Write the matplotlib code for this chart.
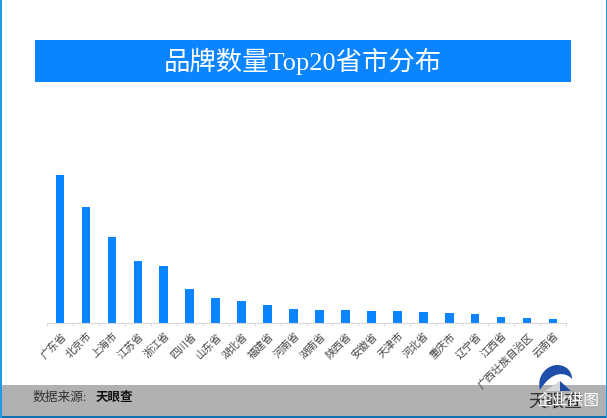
import matplotlib
matplotlib.use('Agg')
import matplotlib.pyplot as plt
from matplotlib.patches import Rectangle, Polygon, PathPatch
from matplotlib.path import Path

W = 607
H = 418

provinces = ['广东省', '北京市', '上海市', '江苏省', '浙江省', '四川省', '山东省', '湖北省', '福建省', '河南省',
             '湖南省', '陕西省', '安徽省', '天津市', '河北省', '重庆市', '辽宁省', '江西省', '广西壮族自治区', '云南省']
counts = [148, 116, 86, 62, 56.5, 34, 25, 21.5, 17.5, 14,
          13, 12.5, 12, 12, 11, 9.5, 9, 6, 4.5, 4]

blue = '#0a84ff'
cjk = ['Liberation Serif', 'Noto Sans CJK SC', 'DejaVu Sans']

fig = plt.figure(figsize=(W / 100, H / 100), dpi=100, facecolor='white')

# full figure overlay in pixel coords, y going down
bg = fig.add_axes([0, 0, 1, 1])
bg.set_xlim(0, W)
bg.set_ylim(H, 0)
bg.axis('off')

# title banner
bg.add_patch(Rectangle((35, 40), 536, 42, color=blue, lw=0))
bg.text(303, 61, '品牌数量Top20省市分布', color='white', fontsize=19, family=cjk,
        ha='center', va='center')

# footer band and frame
bg.add_patch(Rectangle((0, 385), W, 31, color='#b1b1b1', lw=0))
bg.add_patch(Rectangle((0, 416), W, 2, color='#1272b0', lw=0))
bg.add_patch(Rectangle((0, 0), 1.5, H, color='#1e9be8', lw=0))
bg.add_patch(Rectangle((W - 1.5, 0), 1.5, H, color='#1e9be8', lw=0))
bg.text(33, 397.5, '数据来源:', color='#333333', fontsize=9.2, family=cjk, va='center')
bg.text(96, 397.5, '天眼查', color='#111111', fontsize=9, family=cjk, va='center', weight='bold')

# logo
swoosh = Path([(540, 390), (536, 375), (548, 365), (557, 365),
               (566, 365), (572, 371), (572, 379),
               (566, 372), (552, 370), (540, 390)],
              [Path.MOVETO, Path.CURVE4, Path.CURVE4, Path.CURVE4,
               Path.CURVE4, Path.CURVE4, Path.CURVE4,
               Path.CURVE4, Path.CURVE4, Path.CURVE4])
bg.add_patch(PathPatch(swoosh, color='#1d4fa8', lw=0, zorder=3))
bg.add_patch(Polygon([(545, 391), (560, 381), (560, 391)], color='#d4d7dc', lw=0, zorder=3))
bg.add_patch(Polygon([(560, 381), (571, 391), (560, 391)], color='#1d4a9c', lw=0, zorder=3))
bg.text(555, 402, '天眼查', color='#333333', fontsize=13, family=cjk, ha='center', va='center', zorder=4)
bg.text(568, 400.5, '企业供图', color='white', fontsize=11.3, family=cjk, ha='center', va='center', zorder=5)

# chart
left = 47
right = 566
base = 322.5
top = 160
ax = fig.add_axes([left / W, 1 - base / H, (right - left) / W, (base - top) / H])
ax.patch.set_alpha(0)
x = range(len(provinces))
ax.bar(x, counts, width=0.33, color=blue)
ax.set_xlim(-0.5, len(provinces) - 0.5)
ax.set_ylim(0, base - top)
ax.set_yticks([])
for s in ['top', 'left', 'right']:
    ax.spines[s].set_visible(False)
ax.spines['bottom'].set_color('#d9d9d9')
ax.spines['bottom'].set_linewidth(0.8)
ax.set_xticks([i - 0.5 for i in range(len(provinces) + 1)])
ax.set_xticklabels([])
ax.tick_params(axis='x', direction='out', length=2.5, width=0.7, color='#d9d9d9')
for i, name in enumerate(provinces):
    ax.annotate(name, (i, 0), xytext=(0.5, -6), textcoords='offset points', xycoords=('data', 'data'),
                rotation=45, rotation_mode='anchor', ha='right', va='top',
                fontsize=7.6, color='#444444', family=cjk, annotation_clip=False)

fig.savefig('out.png', dpi=100)
